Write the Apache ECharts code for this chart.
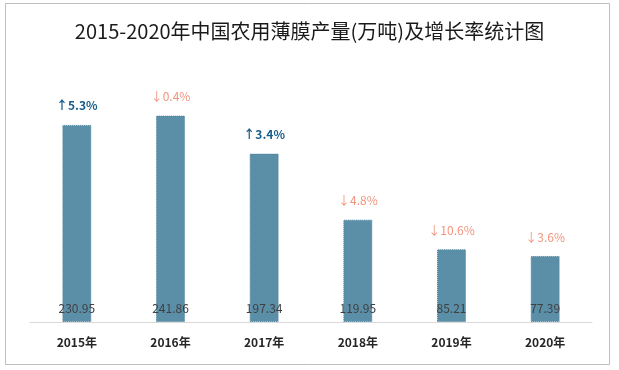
<!DOCTYPE html>
<html><head><meta charset="utf-8">
<script src="https://cdn.jsdelivr.net/npm/echarts@6/dist/echarts.min.js"></script>
<style>html,body{margin:0;padding:0;background:#fff}#c{width:619px;height:370px}</style>
</head><body><div id="c"></div>
<script>
var titleText = '2015-2020年中国农用薄膜产量(万吨)及增长率统计图';
var categories = ['2015年','2016年','2017年','2018年','2019年','2020年'];
var production = [230.95, 241.86, 197.34, 119.95, 85.21, 77.39];
var growth = [5.3, -0.4, 3.4, -4.8, -10.6, -3.6];

var chart = echarts.init(document.getElementById('c'));
var fontCJK = '"Noto Sans CJK SC","Noto Sans",sans-serif';
chart.setOption({
  animation: false,
  title: {
    text: titleText, left: 'center', top: 16,
    textStyle: {fontFamily: fontCJK, fontSize: 20, fontWeight: 'normal', color: '#1a1a1a'}
  },
  graphic: [{
    type: 'rect', shape: {x: 5.5, y: 3.5, width: 604, height: 361},
    style: {fill: 'none', stroke: '#BFBFBF', lineWidth: 1}, silent: true
  }],
  grid: {left: 30, right: 27, top: 66, bottom: 48},
  xAxis: {
    type: 'category', data: categories,
    axisLine: {lineStyle: {color: '#D9D9D9'}},
    axisTick: {show: false},
    axisLabel: {fontFamily: fontCJK, fontSize: 12, fontWeight: 'bold', color: '#262626', margin: 14}
  },
  yAxis: {type: 'value', min: 0, max: 300, show: false, splitLine: {show: false}},
  series: [{
    type: 'bar', data: production, barWidth: 29,
    itemStyle: {color: '#5B8FA8', borderColor: '#5286A0', borderWidth: 1, borderType: 'dotted'},
    label: {
      show: true, position: 'top', distance: 13,
      formatter: function (p) {
        var g = growth[p.dataIndex];
        return g >= 0 ? '{u|↑' + g.toFixed(1) + '%}' : '{d|↓' + Math.abs(g).toFixed(1) + '%}';
      },
      rich: {
        u: {fontFamily: fontCJK, fontSize: 12, fontWeight: 'bold', color: '#155C8A'},
        d: {fontFamily: fontCJK, fontSize: 12, color: '#F2957E'}
      }
    }
  }, {
    type: 'bar', data: production, barWidth: 29, barGap: '-100%',
    itemStyle: {color: 'rgba(0,0,0,0)'},
    label: {
      show: true, position: 'insideBottom', distance: 8,
      fontFamily: fontCJK, fontSize: 12, color: '#404040',
      formatter: function (p) { return production[p.dataIndex].toFixed(2); }
    }
  }]
});
</script></body></html>
